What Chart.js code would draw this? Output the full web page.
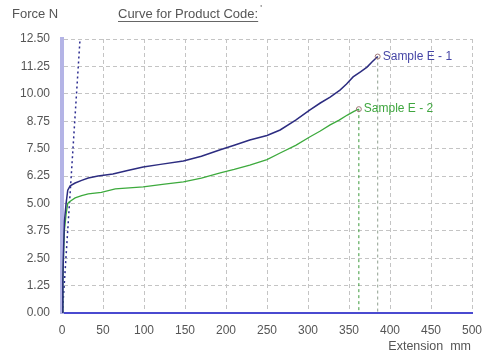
<!DOCTYPE html>
<html>
<head>
<meta charset="utf-8">
<script src="https://cdn.jsdelivr.net/npm/chart.js@4/dist/chart.umd.min.js"></script>
<style>
  html, body { margin: 0; padding: 0; background: #fff; }
  #wrap { width: 482px; height: 356px; position: relative; }
</style>
</head>
<body>
<div id="wrap"><canvas id="forceChart"></canvas></div>
<script>
// values
const xTicks = [0, 50, 100, 150, 200, 250, 300, 350, 400, 450, 500]
const yTicks = [0, 1.25, 2.5, 3.75, 5, 6.25, 7.5, 8.75, 10, 11.25, 12.5]

const extE1 = [0, 1, 2, 3, 5, 7, 10, 16, 24, 32, 44, 62, 80, 99, 120, 148, 170, 193, 210, 229, 250, 266, 285, 302, 315, 327, 339, 347, 355, 364, 372, 378, 385]
const forceE1 = [0, 1.5, 3.0, 4.2, 5.0, 5.6, 5.8, 5.93, 6.05, 6.16, 6.25, 6.34, 6.5, 6.66, 6.78, 6.93, 7.15, 7.45, 7.65, 7.89, 8.1, 8.35, 8.8, 9.26, 9.58, 9.85, 10.17, 10.45, 10.77, 11.0, 11.22, 11.45, 11.7]

const extE2 = [0, 1, 2, 3, 5, 7, 10, 16, 24, 32, 48, 65, 99, 125, 148, 170, 193, 210, 229, 250, 266, 285, 302, 315, 327, 338, 348, 356, 362]
const forceE2 = [0, 1.4, 2.8, 3.8, 4.5, 5.0, 5.1, 5.25, 5.35, 5.43, 5.5, 5.66, 5.75, 5.88, 5.98, 6.15, 6.39, 6.55, 6.75, 7.0, 7.3, 7.65, 8.03, 8.3, 8.58, 8.8, 9.03, 9.2, 9.3]

// steep modulus line
const extSlope = [0.5, 22]
const forceSlope = [0, 12.5]

const seriesNames = ["Sample E - 1", "Sample E - 2"]

function toPoints(xs, ys) {
  return xs.map((x, i) => ({ x: x, y: ys[i] }))
}

function endMarker(n) {
  let r = []
  for (let i = 0; i < n; i++) r.push(i == n - 1 ? 2.5 : 0)
  return r
}

const lastE1 = extE1.length - 1
const lastE2 = extE2.length - 1

let data = {
  datasets: [
    {
      label: seriesNames[0],
      data: toPoints(extE1, forceE1),
      borderColor: "#2c2c80",
      borderWidth: 1.5,
      pointRadius: endMarker(extE1.length),
      pointBorderColor: "#a07878",
      pointBackgroundColor: "rgba(0,0,0,0)",
      pointBorderWidth: 1,
      tension: 0
    },
    {
      label: seriesNames[1],
      data: toPoints(extE2, forceE2),
      borderColor: "#3daa3d",
      borderWidth: 1.3,
      pointRadius: endMarker(extE2.length),
      pointBorderColor: "#a07878",
      pointBackgroundColor: "rgba(0,0,0,0)",
      pointBorderWidth: 1,
      tension: 0
    },
    {
      label: "slope",
      data: toPoints(extSlope, forceSlope),
      borderColor: "#2c2c90",
      borderWidth: 1.5,
      borderDash: [2, 3],
      pointRadius: 0
    },
    {
      label: "drop1",
      data: [{ x: extE1[lastE1], y: forceE1[lastE1] }, { x: extE1[lastE1], y: 0 }],
      borderColor: "#8fa08f",
      borderWidth: 1,
      borderDash: [3, 3],
      pointRadius: 0
    },
    {
      label: "drop2",
      data: [{ x: extE2[lastE2], y: forceE2[lastE2] }, { x: extE2[lastE2], y: 0 }],
      borderColor: "#3d9a3d",
      borderWidth: 1,
      borderDash: [3, 3],
      pointRadius: 0
    }
  ]
}

const fontFam = "'Liberation Sans', Arial, sans-serif"

// extra texts: axis captions, title and end labels
const extraText = {
  id: "extraText",
  afterDraw(chart) {
    const ctx = chart.ctx
    const xs = chart.scales.x
    const ys = chart.scales.y
    ctx.save()
    ctx.font = "13px " + fontFam
    ctx.fillStyle = "#555"
    ctx.textBaseline = "middle"
    ctx.textAlign = "left"
    ctx.fillText("Force N", 12, 14)

    let title = "Curve for Product Code:"
    ctx.fillText(title, 118, 14)
    let w = ctx.measureText(title).width
    ctx.strokeStyle = "#666"
    ctx.lineWidth = 1
    ctx.beginPath()
    ctx.moveTo(118, 21.5)
    ctx.lineTo(118 + w, 21.5)
    ctx.stroke()
    ctx.font = "9px " + fontFam
    ctx.fillText("'", 118 + w + 2, 9)

    ctx.font = "12.5px " + fontFam
    ctx.textAlign = "right"
    ctx.fillText("Extension  mm", 471, 347)

    ctx.font = "12px " + fontFam
    ctx.textAlign = "left"
    ctx.fillStyle = "#4646a6"
    ctx.fillText(seriesNames[0], xs.getPixelForValue(extE1[lastE1]) + 5, ys.getPixelForValue(forceE1[lastE1]))
    ctx.fillStyle = "#3fa63f"
    ctx.fillText(seriesNames[1], xs.getPixelForValue(extE2[lastE2]) + 5, ys.getPixelForValue(forceE2[lastE2]))
    ctx.restore()
  }
}

let ctx = document.getElementById("forceChart").getContext("2d")
let chart = new Chart(ctx, {
  type: "line",
  data: data,
  plugins: [extraText],
  options: {
    responsive: true,
    maintainAspectRatio: false,
    animation: false,
    layout: { padding: { top: 39, right: 0, left: 0, bottom: 0 } },
    plugins: {
      legend: { display: false },
      tooltip: { enabled: false }
    },
    scales: {
      x: {
        type: "linear",
        min: 0,
        max: 500,
        afterBuildTicks: (scale) => { scale.ticks = xTicks.map(v => ({ value: v })) },
        afterFit: (scale) => {
          scale.height = 43
          scale.paddingRight = 10
          scale.paddingLeft = 0
        },
        ticks: {
          color: "#555",
          font: { family: fontFam, size: 12 },
          padding: 10,
          maxRotation: 0,
          autoSkip: false
        },
        grid: { color: "#c4c4c4", drawTicks: false, lineWidth: 1 },
        border: { color: "#4a4ad0", width: 2, dash: [4, 3] }
      },
      y: {
        type: "linear",
        min: 0,
        max: 12.5,
        afterBuildTicks: (scale) => { scale.ticks = yTicks.map(v => ({ value: v })) },
        afterFit: (scale) => { scale.width = 62 },
        ticks: {
          color: "#555",
          font: { family: fontFam, size: 12 },
          padding: 12,
          autoSkip: false,
          callback: (v) => Number(v).toFixed(2)
        },
        grid: { color: "#c4c4c4", drawTicks: false, lineWidth: 1 },
        border: { color: "#b4b4e6", width: 4, dash: [4, 3] }
      }
    }
  }
})
</script>
</body>
</html>
